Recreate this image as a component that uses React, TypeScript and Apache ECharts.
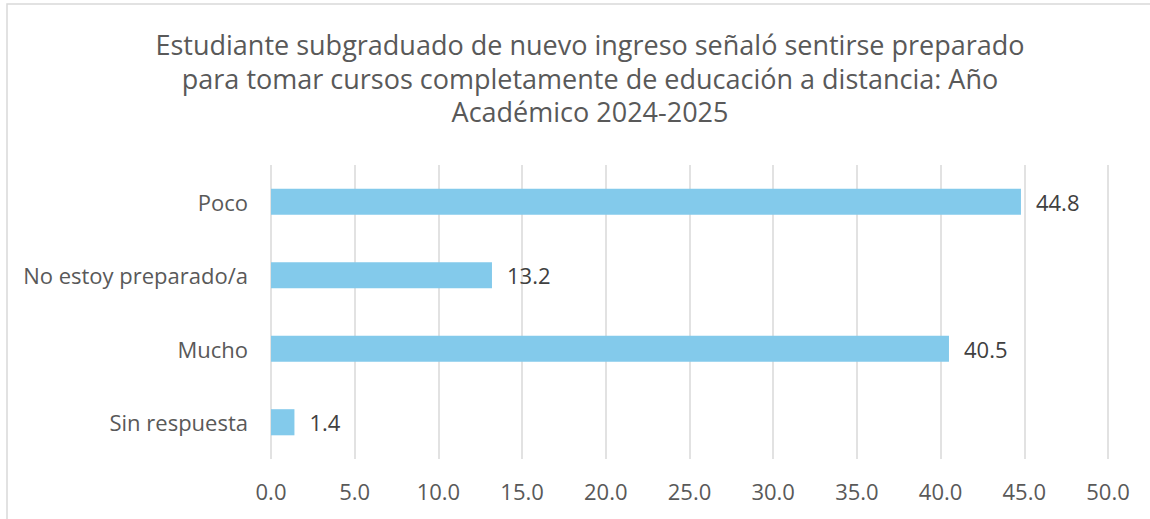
import React, { useEffect, useRef } from "react";
import * as echarts from "echarts";

const titleLines = [
  "Estudiante subgraduado de nuevo ingreso señaló sentirse preparado",
  "para tomar cursos completamente de educación a distancia: Año",
  "Académico 2024-2025",
];
const categories = ["Sin respuesta", "Mucho", "No estoy preparado/a", "Poco"];
const values = [1.4, 40.5, 13.2, 44.8];
const axisMin = 0;
const axisMax = 50;
const axisInterval = 5;

export default function App() {
  const ref = useRef<HTMLDivElement>(null);
  useEffect(() => {
    if (!ref.current) return;
    const chart = echarts.init(ref.current, null, { renderer: "svg" });
    const font = "'Open Sans', 'Noto Sans', sans-serif";
    chart.setOption({
      animation: false,
      backgroundColor: "#ffffff",
      title: {
        text: titleLines.join("\n"),
        left: 585,
        top: 23,
        textAlign: "center",
        textStyle: {
          fontFamily: font,
          fontSize: 27,
          fontWeight: "normal",
          color: "#595959",
          lineHeight: 33.5,
        },
      },
      graphic: [
        {
          type: "rect",
          shape: { x: 7, y: 4, width: 1300, height: 700 },
          style: { fill: "none", stroke: "#d9d9d9", lineWidth: 1.5 },
          silent: true,
        },
      ],
      grid: { left: 271, right: 42, top: 165, bottom: 60, containLabel: false },
      xAxis: {
        type: "value",
        min: axisMin,
        max: axisMax,
        interval: axisInterval,
        axisLine: { show: false },
        axisTick: { show: false },
        splitLine: { show: true, lineStyle: { color: "#d9d9d9", width: 1.5 } },
        axisLabel: {
          margin: 21,
          formatter: (v: number) => v.toFixed(1),
          fontFamily: font,
          fontSize: 22,
          color: "#595959",
        },
      },
      yAxis: {
        type: "category",
        data: categories,
        axisLine: { show: false },
        axisTick: { show: false },
        axisLabel: {
          margin: 23,
          fontFamily: font,
          fontSize: 22,
          color: "#595959",
        },
      },
      series: [
        {
          type: "bar",
          data: values,
          barWidth: "35.5%",
          itemStyle: { color: "#83CAEB" },
          label: {
            show: true,
            position: "right",
            distance: 15,
            formatter: (p: any) => p.value.toFixed(1),
            fontFamily: font,
            fontSize: 22,
            color: "#404040",
          },
        },
      ],
    });
    return () => chart.dispose();
  }, []);
  return (
    <div
      ref={ref}
      style={{ position: "fixed", left: 0, top: 0, width: 1150, height: 519 }}
    />
  );
}
